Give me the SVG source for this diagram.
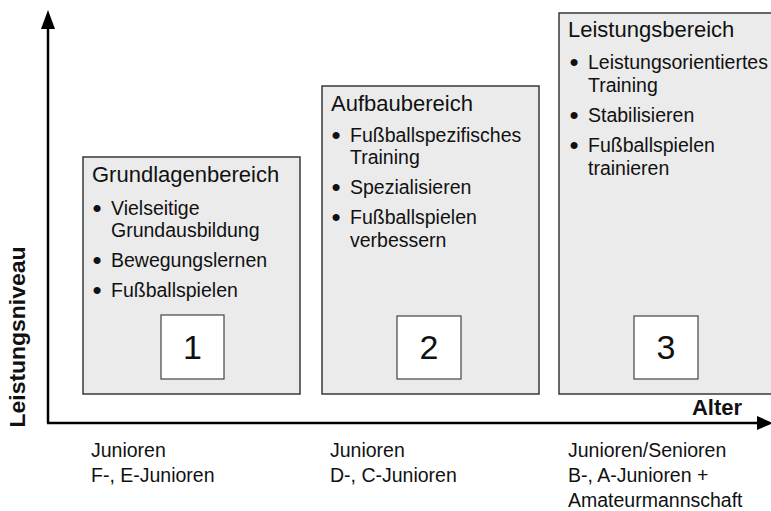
<svg xmlns="http://www.w3.org/2000/svg" width="771" height="511" viewBox="0 0 771 511">
<style>
.box{fill:#ebebeb;stroke:#3a3a3a;stroke-width:1.5}
.num{fill:#ffffff;stroke:#444;stroke-width:1.2}
.t{font-family:"Liberation Sans",Arial,Helvetica,sans-serif;fill:#111}
.title{font-size:22px}
.item{font-size:19.5px}
.bul{font-size:26px;text-anchor:middle}
.digit{font-size:34px;text-anchor:middle}
.lab{font-size:19.5px}
.axis{stroke:#000;stroke-width:2.5;fill:none}
.bold{font-weight:bold;font-size:22px}
</style>
<g id="axes">
<line class="axis" x1="48" y1="423" x2="48" y2="26"/>
<polygon points="48,10 41,29 55,29" fill="#000"/>
<line class="axis" x1="47" y1="423" x2="758" y2="423"/>
<polygon points="773,423 757,416 757,430" fill="#000"/>
<text class="t bold" x="742" y="415" text-anchor="end">Alter</text>
<text class="t bold" transform="translate(25,337) rotate(-90)" text-anchor="middle" textLength="181" lengthAdjust="spacingAndGlyphs">Leistungsniveau</text>
</g>
<g id="box1">
<rect class="box" x="83" y="157" width="217" height="237"/>
<text class="t title" x="92" y="182">Grundlagenbereich</text>
<text class="t bul" x="97" y="217">•</text>
<text class="t item" x="111" y="215">Vielseitige</text>
<text class="t item" x="111" y="237">Grundausbildung</text>
<text class="t bul" x="97" y="269">•</text>
<text class="t item" x="111" y="267">Bewegungslernen</text>
<text class="t bul" x="97" y="299">•</text>
<text class="t item" x="111" y="297">Fußballspielen</text>
<rect class="num" x="161" y="315" width="63" height="64"/>
<text class="t digit" x="192.5" y="359">1</text>
</g>
<g id="box2">
<rect class="box" x="322" y="86" width="217" height="308"/>
<text class="t title" x="331" y="111">Aufbaubereich</text>
<text class="t bul" x="336" y="144">•</text>
<text class="t item" x="350" y="142">Fußballspezifisches</text>
<text class="t item" x="350" y="164">Training</text>
<text class="t bul" x="336" y="196">•</text>
<text class="t item" x="350" y="194">Spezialisieren</text>
<text class="t bul" x="336" y="226">•</text>
<text class="t item" x="350" y="224">Fußballspielen</text>
<text class="t item" x="350" y="247">verbessern</text>
<rect class="num" x="397" y="316" width="64" height="63"/>
<text class="t digit" x="429" y="359">2</text>
</g>
<g id="box3">
<rect class="box" x="559" y="13" width="215" height="381"/>
<text class="t title" x="568" y="37">Leistungsbereich</text>
<text class="t bul" x="574" y="71">•</text>
<text class="t item" x="588" y="69">Leistungsorientiertes</text>
<text class="t item" x="588" y="92">Training</text>
<text class="t bul" x="574" y="124">•</text>
<text class="t item" x="588" y="122">Stabilisieren</text>
<text class="t bul" x="574" y="154">•</text>
<text class="t item" x="588" y="152">Fußballspielen</text>
<text class="t item" x="588" y="175">trainieren</text>
<rect class="num" x="634" y="316" width="64" height="63"/>
<text class="t digit" x="666" y="359">3</text>
</g>
<g id="labels">
<text class="t lab" x="91" y="457">Junioren</text>
<text class="t lab" x="91" y="482">F-, E-Junioren</text>
<text class="t lab" x="330" y="457">Junioren</text>
<text class="t lab" x="330" y="482">D-, C-Junioren</text>
<text class="t lab" x="568" y="457">Junioren/Senioren</text>
<text class="t lab" x="568" y="482">B-, A-Junioren +</text>
<text class="t lab" x="568" y="507">Amateurmannschaft</text>
</g>
</svg>
